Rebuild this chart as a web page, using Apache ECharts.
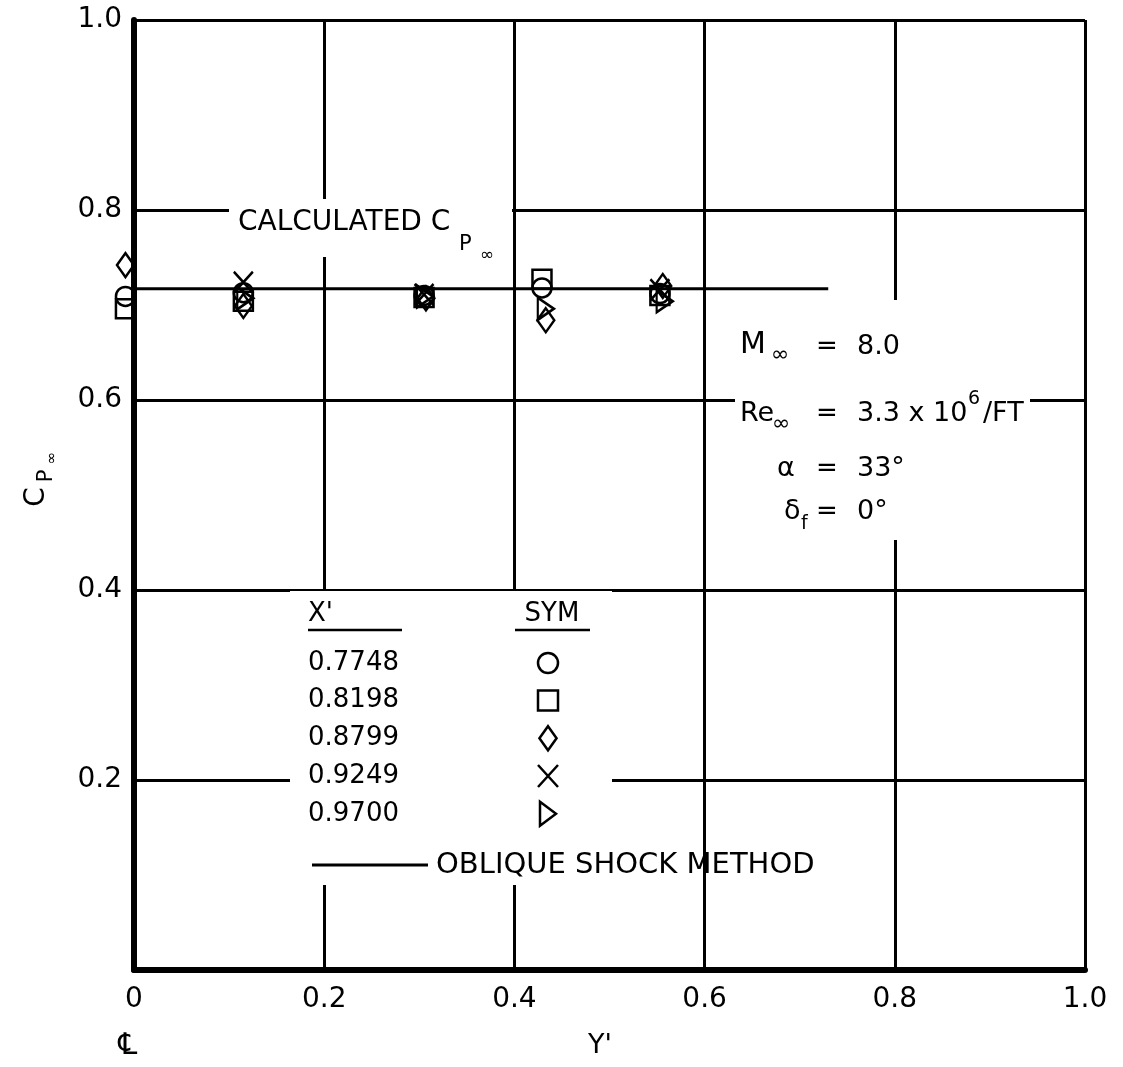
<!DOCTYPE html>
<html>
<head>
<meta charset="utf-8">
<script src="https://cdn.jsdelivr.net/npm/echarts@6/dist/echarts.min.js"></script>
<style>
  html, body { margin: 0; padding: 0; background: #fff; }
  #chart { width: 1123px; height: 1067px; }
</style>
</head>
<body>
<div id="chart"></div>
<script>
// X' stations, one series each
const xPrimes = ["0.7748", "0.8198", "0.8799", "0.9249", "0.9700"];
// Y' positions and Cp values
const circlePts = [[-0.009, 0.709], [0.115, 0.713], [0.305, 0.71], [0.429, 0.718], [0.553, 0.712]];
const squarePts = [[-0.009, 0.696], [0.115, 0.704], [0.305, 0.708], [0.429, 0.727], [0.553, 0.71]];
const diamondPts = [[-0.009, 0.742], [0.115, 0.699], [0.307, 0.707], [0.433, 0.684], [0.556, 0.72]];
const crossPts = [[0.115, 0.724], [0.305, 0.711], [0.553, 0.716]];
const trianglePts = [[0.117, 0.707], [0.306, 0.709], [0.433, 0.696], [0.558, 0.704]];
// oblique shock method
const obliqueY = [0, 0.73];
const obliqueCp = [0.717, 0.717];
// axis ticks
const xTicks = [0, 0.2, 0.4, 0.6, 0.8, 1.0];
const yTicks = [0, 0.2, 0.4, 0.6, 0.8, 1.0];

const FONT = "DejaVu Sans";
const symbols = [
  "circle",
  "path://M0,0L10,0L10,10L0,10Z",
  "path://M5,0L10,7L5,14L0,7Z",
  "path://M0,0L10,11M10,0L0,11",
  "path://M0,0L8,6L0,12Z"
];
const sizes = [19, 19, [17, 24], [19, 21], [16, 22]];
const pointSets = [circlePts, squarePts, diamondPts, crossPts, trianglePts];

let chart = echarts.init(document.getElementById("chart"));

let series = pointSets.map((pts, i) => ({
  name: xPrimes[i],
  type: "scatter",
  data: pts,
  symbol: symbols[i],
  symbolSize: sizes[i],
  clip: false,
  z: 10,
  itemStyle: { color: "rgba(0,0,0,0)", borderColor: "#000", borderWidth: 2.5, opacity: 1 },
  emphasis: { disabled: true }
}));
series.push({
  name: "oblique",
  type: "line",
  data: obliqueY.map((x, i) => [x, obliqueCp[i]]),
  symbol: "none",
  z: 9,
  lineStyle: { color: "#000", width: 3 }
});

// white boxes that break the grid lines behind the notes
function box(x, y, w, h) {
  return { type: "rect", shape: { x: x, y: y, width: w, height: h }, style: { fill: "#fff" }, z: 5, silent: true };
}
function txt(x, y, s, size, align) {
  return {
    type: "text", x: x, y: y, z: 6, silent: true,
    style: { text: s, font: size + "px '" + FONT + "'", fill: "#000", textAlign: align || "left", textVerticalAlign: "middle" }
  };
}
function seg(x1, y1, x2, y2, w) {
  return { type: "line", shape: { x1: x1, y1: y1, x2: x2, y2: y2 }, style: { stroke: "#000", lineWidth: w || 2 }, z: 6, silent: true };
}

let graphics = [
  box(229, 199, 283, 58),
  box(735, 300, 295, 240),
  box(290, 591, 322, 294),
  // calculated Cp
  txt(238, 223, "CALCULATED C", 28),
  txt(459, 245, "P", 21),
  txt(480, 256, "∞", 17),
  // flow conditions
  txt(740, 345, "M", 30),
  txt(771, 355, "∞", 22),
  txt(827, 347, "=", 26, "center"),
  txt(857, 347, "8.0", 27),
  txt(740, 414, "Re", 27),
  txt(772, 424, "∞", 22),
  txt(827, 414, "=", 26, "center"),
  txt(857, 414, "3.3 x 10", 27),
  txt(968, 399, "6", 19),
  txt(983, 414, "/FT", 27),
  txt(777, 469, "α", 27),
  txt(827, 469, "=", 26, "center"),
  txt(857, 469, "33°", 27),
  txt(784, 512, "δ", 27),
  txt(801, 524, "f", 19),
  txt(827, 512, "=", 26, "center"),
  txt(857, 512, "0°", 27),
  // table headers
  txt(308, 614, "X'", 26),
  seg(308, 630, 402, 630, 2.5),
  txt(552, 614, "SYM", 26, "center"),
  seg(515, 630, 590, 630, 2.5),
  // oblique shock key
  seg(312, 865, 428, 865, 3),
  txt(436, 865, "OBLIQUE SHOCK METHOD", 29),
  // axis titles
  txt(128, 1046, "℄", 30, "center"),
  txt(600, 1046, "Y'", 27, "center"),
  {
    type: "group", x: 37, y: 497, rotation: Math.PI / 2, z: 6, silent: true,
    children: [
      { type: "text", x: 0, y: 0, style: { text: "C", font: "28px '" + FONT + "'", fill: "#000", textAlign: "center", textVerticalAlign: "middle" } },
      { type: "text", x: 21, y: 10, style: { text: "P", font: "21px '" + FONT + "'", fill: "#000", textAlign: "center", textVerticalAlign: "middle" } },
      { type: "text", x: 39, y: 15, style: { text: "∞", font: "15px '" + FONT + "'", fill: "#000", textAlign: "center", textVerticalAlign: "middle" } }
    ]
  }
];

let option = {
  animation: false,
  backgroundColor: "#fff",
  grid: { left: 134, right: 38, top: 20, bottom: 97 },
  xAxis: {
    type: "value", min: 0, max: 1, interval: 0.2,
    axisLine: { show: true, lineStyle: { color: "#000", width: 6 } },
    axisTick: { show: false },
    splitLine: { show: true, lineStyle: { color: "#000", width: 3 } },
    axisLabel: {
      margin: 16, color: "#000", fontSize: 28, fontFamily: FONT,
      formatter: v => (xTicks.indexOf(v) >= 0 ? (v === 0 ? "0" : v.toFixed(1)) : "")
    }
  },
  yAxis: {
    type: "value", min: 0, max: 1, interval: 0.2,
    axisLine: { show: true, lineStyle: { color: "#000", width: 6 } },
    axisTick: { show: false },
    splitLine: { show: true, lineStyle: { color: "#000", width: 3 } },
    axisLabel: {
      margin: 12, color: "#000", fontSize: 28, fontFamily: FONT,
      formatter: v => (v === 0 ? "" : yTicks.indexOf(v) >= 0 ? v.toFixed(1) : "")
    }
  },
  legend: {
    orient: "vertical", left: 303, top: 645, align: "right",
    itemWidth: 20, itemHeight: 24, itemGap: 11.5, z: 10,
    selectedMode: false,
    data: xPrimes.map((n, i) => ({ name: n, icon: symbols[i] })),
    itemStyle: { color: "rgba(0,0,0,0)", borderColor: "#000", borderWidth: 2.5, opacity: 1 },
    formatter: n => "{v|" + n + "}",
    textStyle: {
      color: "#000",
      rich: { v: { width: 225, align: "left", fontSize: 26, lineHeight: 24, fontFamily: FONT, color: "#000" } }
    }
  },
  graphic: graphics,
  series: series
};
chart.setOption(option);
</script>
</body>
</html>
